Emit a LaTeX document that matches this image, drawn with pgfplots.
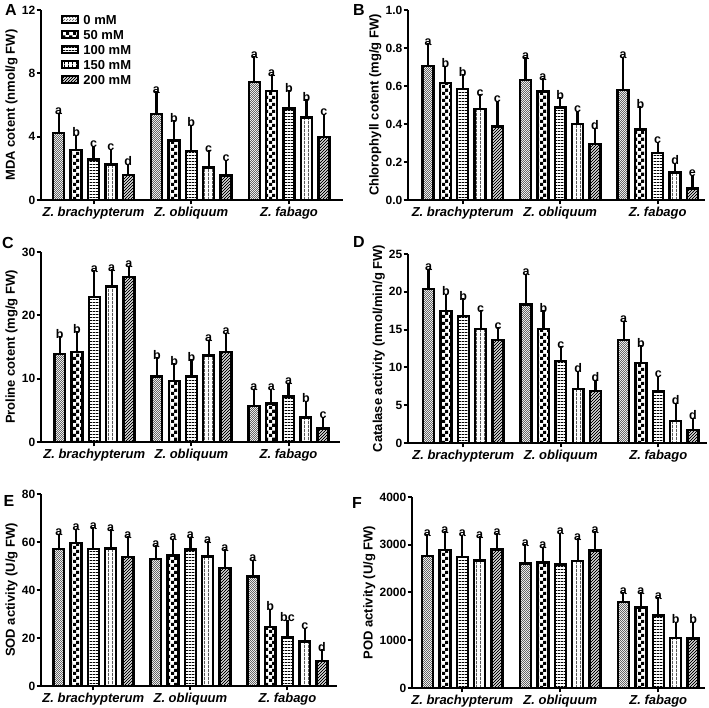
\documentclass[border=0pt]{standalone}
\usepackage{fontspec}
\setmainfont{Liberation Sans}
\usepackage{pgfplots}
\usepackage{pgfplotstable}
\pgfplotsset{compat=1.18}
\usetikzlibrary{patterns}

\newcommand{\fs}{\fontsize{13}{15}\selectfont}

\pgfdeclarepatternformonly{finecheck}{\pgfpointorigin}{\pgfqpoint{2.4pt}{2.4pt}}{\pgfqpoint{2.4pt}{2.4pt}}{%
  \pgfpathrectangle{\pgfpointorigin}{\pgfqpoint{1.2pt}{1.2pt}}%
  \pgfpathrectangle{\pgfqpoint{1.2pt}{1.2pt}}{\pgfqpoint{1.2pt}{1.2pt}}%
  \pgfusepath{fill}}
\pgfdeclarepatternformonly{bigcheck}{\pgfpointorigin}{\pgfqpoint{6.6pt}{6.6pt}}{\pgfqpoint{6.6pt}{6.6pt}}{%
  \pgfpathrectangle{\pgfpointorigin}{\pgfqpoint{3.3pt}{3.3pt}}%
  \pgfpathrectangle{\pgfqpoint{3.3pt}{3.3pt}}{\pgfqpoint{3.3pt}{3.3pt}}%
  \pgfusepath{fill}}
\pgfdeclarepatternformonly{hl}{\pgfpointorigin}{\pgfqpoint{3pt}{3pt}}{\pgfqpoint{3pt}{3pt}}{%
  \pgfpathrectangle{\pgfpointorigin}{\pgfqpoint{3pt}{1pt}}%
  \pgfusepath{fill}}
\pgfdeclarepatternformonly{vl}{\pgfpointorigin}{\pgfqpoint{4pt}{4pt}}{\pgfqpoint{4pt}{4pt}}{%
  \pgfpathrectangle{\pgfpointorigin}{\pgfqpoint{0.9pt}{4pt}}%
  \pgfusepath{fill}}
\pgfdeclarepatternformonly{ne}{\pgfqpoint{-1pt}{-1pt}}{\pgfqpoint{4pt}{4pt}}{\pgfqpoint{3pt}{3pt}}{%
  \pgfsetlinewidth{0.8pt}%
  \pgfpathmoveto{\pgfqpoint{0pt}{0pt}}%
  \pgfpathlineto{\pgfqpoint{3.1pt}{3.1pt}}%
  \pgfusepath{stroke}}

% columns: x, value, upper error, letter for the five concentrations
\pgfplotstableread{
x v0 e0 l0 v1 e1 l1 v2 e2 l2 v3 e3 l3 v4 e4 l4
0 4.22 0.99 a 3.15 0.67 b 2.56 0.59 c 2.25 0.69 c 1.58 0.44 d
1 5.42 1.16 a 3.76 0.99 b 3.09 1.38 b 2.06 0.80 c 1.55 0.70 c
2 7.46 1.34 a 6.89 0.78 a 5.78 0.86 b 5.21 0.86 b 3.97 1.18 c
}\tabA
\pgfplotstableread{
x v0 e0 l0 v1 e1 l1 v2 e2 l2 v3 e3 l3 v4 e4 l4
0 0.706 0.096 a 0.615 0.068 b 0.583 0.056 b 0.478 0.056 c 0.387 0.112 c
1 0.630 0.097 a 0.571 0.047 a 0.487 0.030 b 0.401 0.046 c 0.296 0.060 d
2 0.580 0.150 a 0.370 0.099 b 0.247 0.035 c 0.145 0.028 d 0.061 0.049 e
}\tabB
\pgfplotstableread{
x v0 e0 l0 v1 e1 l1 v2 e2 l2 v3 e3 l3 v4 e4 l4
0 13.9 2.07 b 14.19 2.57 b 22.86 3.57 a 24.54 2.0 a 26.01 1.1 a
1 10.35 2.31 b 9.67 2.05 b 10.35 2.0 b 13.66 1.74 a 14.19 2.36 a
2 5.73 1.99 a 6.1 1.62 a 7.2 1.47 a 3.89 1.89 b 2.1 1.16 c
}\tabC
\pgfplotstableread{
x v0 e0 l0 v1 e1 l1 v2 e2 l2 v3 e3 l3 v4 e4 l4
0 20.38 2.07 a 17.47 1.68 b 16.81 1.76 b 15.05 1.9 c 13.6 1.14 c
1 18.31 3.48 a 15.1 1.89 b 10.87 1.32 c 7.17 1.76 d 6.87 0.88 d
2 13.6 1.98 a 10.61 1.71 b 6.82 1.45 c 2.9 1.85 d 1.72 1.01 d
}\tabD
\pgfplotstableread{
x v0 e0 l0 v1 e1 l1 v2 e2 l2 v3 e3 l3 v4 e4 l4
0 57.0 4.6 a 59.65 3.9 a 57.0 7.25 a 57.28 6.12 a 53.8 6.8 a
1 52.82 3.9 a 54.36 5.15 a 56.86 3.35 a 53.94 4.46 a 49.06 5.99 a
2 45.57 5.16 a 24.67 5.71 b 20.2 5.58 bc 18.54 3.9 c 10.31 3.21 d
}\tabE
\pgfplotstableread{
x v0 e0 l0 v1 e1 l1 v2 e2 l2 v3 e3 l3 v4 e4 l4
0 2764 363 a 2890 300 a 2743 370 a 2674 412 a 2897 251 a
1 2604 314 a 2632 237 a 2583 579 a 2660 377 a 2876 314 a
2 1801 105 a 1689 217 a 1515 286 a 1047 244 b 1033 265 b
}\tabF

\pgfplotsset{
  sbase/.style={draw=black, line width=2.4pt,
    error bars/y dir=plus, error bars/y explicit,
    error bars/error bar style={line width=2.2pt, black},
    error bars/error mark options={line width=2.2pt, black, mark size=4.5pt},
    nodes near coords, point meta=explicit symbolic,
    nodes near coords style={font=\fontsize{12.5}{12.5}\selectfont\bfseries, black, anchor=south, inner sep=1.2pt,
      shift={(axis direction cs:0,\myerr)}}},
  s0/.style={sbase, bar shift=-0.356, pattern=finecheck, pattern color=black!60, visualization depends on={\thisrow{e0}\as\myerr}},
  s1/.style={sbase, bar shift=-0.178, pattern=bigcheck, pattern color=black, visualization depends on={\thisrow{e1}\as\myerr}},
  s2/.style={sbase, bar shift=0, pattern=hl, pattern color=black, visualization depends on={\thisrow{e2}\as\myerr}},
  s3/.style={sbase, bar shift=0.178, pattern=vl, pattern color=black, visualization depends on={\thisrow{e3}\as\myerr}},
  s4/.style={sbase, bar shift=0.356, pattern=ne, pattern color=black, visualization depends on={\thisrow{e4}\as\myerr}},
  myax/.style={scale only axis, ybar, bar width=0.112, ymin=0,
    axis x line*=bottom, axis y line*=left,
    axis line style={line width=2pt, black},
    xtick={0,1,2},
    xticklabels={Z. brachypterum, Z. obliquum, Z. fabago},
    xticklabel style={font=\fs\bfseries\itshape, inner sep=2pt},
    tick style={line width=2pt, black},
    tick align=outside, major tick length=4.5pt,
    yticklabel style={font=\fontsize{12}{14}\selectfont\bfseries, inner sep=1pt},
    /pgf/number format/assume math mode=true,
    ylabel style={font=\fs\bfseries, inner sep=3pt},
    clip=false,
    legend image code/.code={\draw[#1, line width=1.8pt] (0pt,-3.6pt) rectangle (16pt,4pt);}},
}

\newcommand{\fivebars}[1]{%
  \addplot[s0] table[x=x,y=v0,y error=e0,meta=l0]{#1};
  \addplot[s1] table[x=x,y=v1,y error=e1,meta=l1]{#1};
  \addplot[s2] table[x=x,y=v2,y error=e2,meta=l2]{#1};
  \addplot[s3] table[x=x,y=v3,y error=e3,meta=l3]{#1};
  \addplot[s4] table[x=x,y=v4,y error=e4,meta=l4]{#1};
}

\begin{document}
\begin{tikzpicture}
\useasboundingbox (0,0) rectangle (709pt,708pt);

% A
\begin{axis}[myax, at={(41pt,508pt)}, anchor=south west, width=302pt, height=190pt,
  xmin=-0.537, xmax=2.552, ymax=12, ytick={0,4,8,12},
  ylabel={MDA cotent (nmol/g FW)},
  legend entries={0 mM,50 mM,100 mM,150 mM,200 mM},
  legend cell align=left,
  legend style={draw=none, fill=none, at={(0.066,0.985)}, anchor=north west,
    font=\fs\bfseries, inner sep=0pt, row sep=1.5pt,
    /tikz/every odd column/.append style={column sep=3pt},
    nodes={inner sep=1.5pt, text height=9.5pt, text depth=1pt}}]
\fivebars{\tabA}
\end{axis}

% B
\begin{axis}[myax, at={(408pt,508pt)}, anchor=south west, width=297pt, height=190pt,
  xmin=-0.561, xmax=2.485, ymax=1, ytick={0,0.2,0.4,0.6,0.8,1.0},
  yticklabel style={/pgf/number format/.cd, fixed, fixed zerofill, precision=1},
  ylabel={Chlorophyll cotent (mg/g FW)}]
\fivebars{\tabB}
\end{axis}

% C
\begin{axis}[myax, at={(41pt,266pt)}, anchor=south west, width=299pt, height=190pt,
  xmin=-0.549, xmax=2.53, ymax=30, ytick={0,10,20,30},
  ylabel={Proline cotent (mg/g FW)}]
\fivebars{\tabC}
\end{axis}

% D
\begin{axis}[myax, at={(408pt,265pt)}, anchor=south west, width=299pt, height=189pt,
  xmin=-0.567, xmax=2.499, ymax=25, ytick={0,5,10,15,20,25},
  ylabel={Catalase activity (nmol/min/g FW)}]
\fivebars{\tabD}
\end{axis}

% E
\begin{axis}[myax, at={(41pt,22pt)}, anchor=south west, width=296pt, height=192pt,
  xmin=-0.539, xmax=2.51, ymax=80, ytick={0,20,40,60,80},
  ylabel={SOD activity (U/g FW)}]
\fivebars{\tabE}
\end{axis}

% F
\begin{axis}[myax, at={(412pt,20pt)}, anchor=south west, width=293pt, height=191pt,
  xmin=-0.513, xmax=2.477, ymax=4000, ytick={0,1000,2000,3000,4000},
  /pgf/number format/1000 sep={},
  ylabel={POD activity (U/g FW)}]
\fivebars{\tabF}
\end{axis}

\node[font=\fontsize{16}{16}\selectfont\bfseries] at (11pt,698pt) {A};
\node[font=\fontsize{16}{16}\selectfont\bfseries] at (359pt,698pt) {B};
\node[font=\fontsize{16}{16}\selectfont\bfseries] at (8pt,465pt) {C};
\node[font=\fontsize{16}{16}\selectfont\bfseries] at (359pt,466pt) {D};
\node[font=\fontsize{16}{16}\selectfont\bfseries] at (9pt,207pt) {E};
\node[font=\fontsize{16}{16}\selectfont\bfseries] at (357pt,205pt) {F};
\end{tikzpicture}
\end{document}
